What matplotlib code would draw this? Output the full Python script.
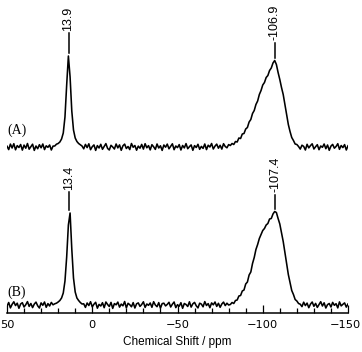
import numpy as np
import matplotlib
matplotlib.use('Agg')
import matplotlib.pyplot as plt
from matplotlib.ticker import MultipleLocator, FixedLocator
from matplotlib.transforms import ScaledTranslation

# chemical shift grid (ppm), 1 ppm steps from 50 to -150
ppm = np.arange(50, -151, -1)

# Spectrum (A): intensities (pixel-height units above baseline)
# 50 .. 23 ppm
a_noise_1 = [0.8, -2.6, 2.9, -1.0, 3.3, -2.8, 1.4, -0.5, 2.5, -3.1,
             1.9, -1.2, 3.5, -2.2, 0.4, 2.8, -3.4, 1.0, -1.7, 2.3,
             -0.8, 3.0, -2.6, 1.2, -0.3, 2.0, -3.0, 0.9]
# 22 .. 6 ppm
a_peak_1 = [1.0, 2.8, 3.5, 5.0, 8.0, 14.0, 30.0, 62.0, 91.0, 70.0,
            36.0, 17.0, 9.0, 5.5, 3.5, 2.2, 1.0]
# 5 .. -80 ppm
a_noise_2 = [-1.8, 2.6, -0.6, 3.2, -2.7, 0.3, 2.1, -3.4, 1.4, -1.0,
             2.7, -2.3, 0.6, 3.4, -1.4, -3.0, 1.7, 0.0, -2.0, 3.0,
             -0.9, 2.1, -3.3, 1.2, 2.9, -1.5, 0.5, -2.6, 3.5, -0.3,
             1.5, -3.2, 0.9, -1.2, 2.6, -2.1, 3.3, -0.8, 1.4, -2.9,
             2.3, 0.2, -2.4, 3.0, -1.0, 1.2, -3.4, 2.0, -0.2, 2.9,
             -1.8, 0.8, 3.2, -2.7, 1.0, -0.6, 2.4, -3.0, 1.5, -0.9,
             3.4, -1.7, 0.3, 2.1, -3.3, 1.4, -0.5, 2.7, -2.3, 0.6,
             -1.4, 3.0, -2.6, 1.8, 0.0, 3.5, -2.0, 0.9, 2.9, -1.2,
             1.7, -2.1, 3.3, 0.5, -0.8, 2.4]
# -81 .. -121 ppm
a_peak_2 = [1.5, 3.5, 2.5, 5.5, 5.0, 9.0, 8.5, 13.0, 13.5, 18.0,
            19.5, 25.0, 27.5, 33.5, 36.5, 42.5, 46.0, 52.5, 56.5, 62.0,
            64.5, 69.5, 71.5, 76.5, 79.0, 84.0, 86.5, 82.5, 74.5, 67.5,
            59.5, 52.5, 42.5, 32.5, 22.5, 15.5, 9.5, 6.5, 3.0, 2.5,
            0.5]
# -122 .. -150 ppm
a_noise_3 = [-2.1, 1.8, 0.6, -3.0, 2.7, -0.9, 1.4, 3.2, -2.0, 0.3,
             2.3, -2.7, 1.0, -0.3, 3.0, -1.7, 2.0, -3.3, 0.9, 2.6,
             -1.2, 0.5, 3.3, -2.3, 1.5, -0.6, 2.4, -3.0, 1.2]
spec_a = np.array(a_noise_1 + a_peak_1 + a_noise_2 + a_peak_2 + a_noise_3)

# Spectrum (B)
b_noise_1 = [-1.2, 2.5, -2.9, 0.7, 3.2, -0.6, 1.8, -3.3, 1.0, 2.3,
             -2.0, 0.3, 3.4, -1.4, 1.5, -2.6, 0.9, 2.9, -0.8, -3.0,
             2.1, -0.3, 3.0, -2.3, 1.4, -1.0, 2.6, 0.2]
b_peak_1 = [1.2, 1.8, 3.0, 4.5, 7.0, 12.0, 24.0, 48.0, 80.0, 92.0,
            56.0, 27.0, 13.0, 7.0, 4.5, 2.5, 1.0]
b_noise_2 = [1.2, -2.4, 2.0, -0.5, 3.3, -1.8, 0.8, 2.7, -3.2, 0.6,
             -1.0, 2.3, -2.7, 3.0, 0.5, -1.5, 2.6, -3.4, 1.4, 0.2,
             2.9, -2.1, 0.9, -0.8, 3.5, -2.9, 1.7, 0.3, -1.8, 2.4,
             -3.0, 1.2, 2.1, -1.4, 0.5, 3.2, -2.4, 1.0, -0.3, 2.0,
             -2.3, 3.3, 0.0, -1.7, 2.4, -3.2, 1.4, 1.8, -0.9, 0.6,
             2.7, -2.0, 0.8, 3.0, -2.6, 0.3, -1.2, 2.3, -3.3, 1.5,
             0.5, -1.5, 3.2, -2.1, 1.2, 2.6, -0.8, -2.9, 1.8, 0.9,
             -1.8, 3.4, -0.5, 1.4, -2.7, 2.1, 0.2, 3.0, -1.4, 1.7,
             -2.3, 1.0, 2.9, -0.6, 1.8, 0.0]
b_peak_2 = [0.5, 2.5, 1.5, 4.5, 5.0, 9.0, 9.5, 14.0, 15.0, 21.0,
            23.0, 30.0, 33.0, 41.5, 47.5, 55.5, 60.5, 66.5, 70.5, 74.5,
            76.5, 80.0, 81.5, 86.0, 86.5, 91.0, 93.5, 92.5, 86.5, 81.0,
            72.5, 63.5, 52.5, 41.5, 30.5, 22.5, 14.5, 10.5, 5.5, 4.0,
            1.5]
b_noise_3 = [0.8, -1.6, 2.8, -0.6, 1.9, -2.7, 0.9, 3.0, -1.3, 1.6,
             -2.4, 0.5, 3.3, -1.0, 2.2, -3.0, 0.4, 1.5, -2.0, 2.6,
             -0.3, 1.3, -2.9, 3.1, -0.9, 0.7, 2.1, -2.1, 1.0]
spec_b = np.array(b_noise_1 + b_peak_1 + b_noise_2 + b_peak_2 + b_noise_3)

peaks_a = [13.9, -106.9]
labels_a = ['13.9', '-106.9']
peaks_b = [13.4, -107.4]
labels_b = ['13.4', '-107.4']

xticks_major = [50, 0, -50, -100, -150]
xtick_labels = ['50', '0', '\u221250', '\u2212100', '\u2212150']

# ---- layout / style ----
offset_a = 166
offset_b = 8
W, H = 362, 352

fig = plt.figure(figsize=(W / 100, H / 100), dpi=100)
ax = fig.add_axes([7 / W, 39 / H, 341 / W, 313 / H])
ax.set_xlim(50, -150)
ax.set_ylim(0, 313)

ax.plot(ppm, spec_a + offset_a, color='black', lw=1.15)
ax.plot(ppm, spec_b + offset_b, color='black', lw=1.15)

def annotate(spec, offset, peaks, labels, lens):
    for p, lab, L in zip(peaks, labels, lens):
        m = np.abs(ppm - p) <= 1.5
        top = offset + spec[m].max()
        ax.plot([p, p], [top + 3, top + 3 + L], color='black', lw=1.1)
        ax.text(p, top + 5 + L, lab, rotation=90, ha='center', va='bottom',
                fontsize=9, family='Liberation Sans')

annotate(spec_a, offset_a, peaks_a, labels_a, [20, 15])
annotate(spec_b, offset_b, peaks_b, labels_b, [18, 14])

ax.text(49.6, offset_a + 17, '(A)', ha='left', va='center', fontsize=10,
        family='Liberation Serif')
ax.text(49.6, offset_b + 13, '(B)', ha='left', va='center', fontsize=10,
        family='Liberation Serif')

for s in ['top', 'left', 'right']:
    ax.spines[s].set_visible(False)
ax.spines['bottom'].set_linewidth(1.1)
ax.set_yticks([])
ax.xaxis.set_major_locator(FixedLocator(xticks_major))
ax.set_xticklabels(xtick_labels)
ax.xaxis.set_minor_locator(MultipleLocator(10))
ax.tick_params(axis='x', which='major', direction='in', length=6, width=0.9,
               pad=5, labelsize=8.2)
ax.tick_params(axis='x', which='minor', direction='in', length=3.5, width=0.9)
ax.set_xlabel('Chemical Shift / ppm', fontsize=8.5, family='Liberation Sans',
              labelpad=4)

# keep the last tick label inside the canvas
fig.canvas.draw()
last = ax.get_xticklabels()[-1]
last.set_transform(last.get_transform() + ScaledTranslation(-3 / 100, 0, fig.dpi_scale_trans))

fig.savefig('out.png', dpi=100)
